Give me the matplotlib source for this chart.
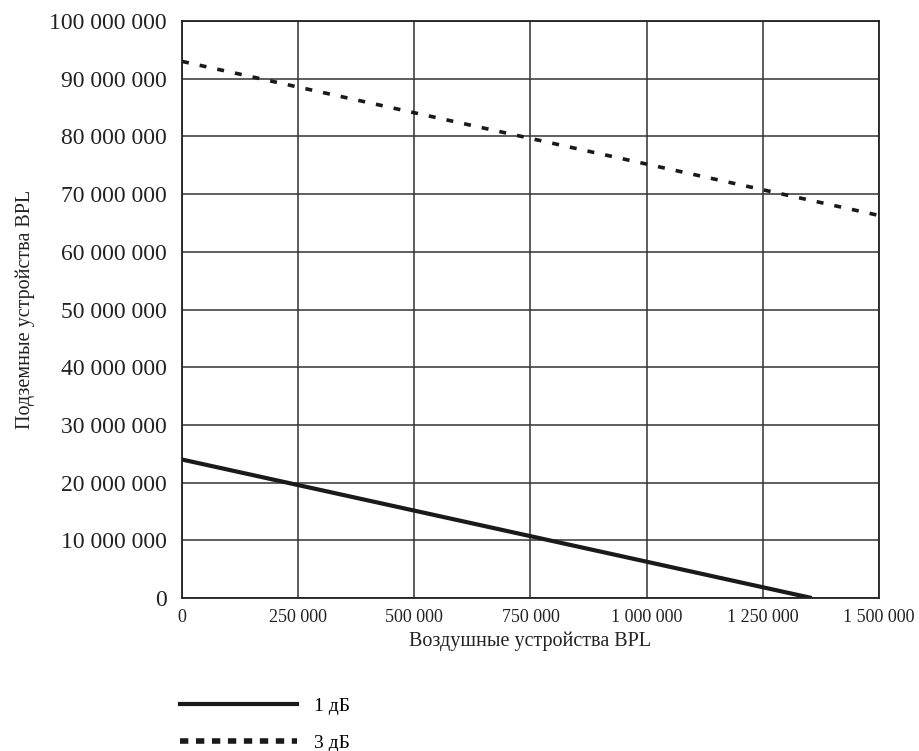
import matplotlib
matplotlib.use("Agg")
import matplotlib.pyplot as plt
from matplotlib.ticker import FuncFormatter

plt.rcParams["font.family"] = ["Liberation Serif", "DejaVu Serif"]
plt.rcParams["lines.scale_dashes"] = False

# values
air_1db = [0, 1355000]
ground_1db = [24000000, 0]
air_3db = [0, 1500000]
ground_3db = [93000000, 66300000]

x_ticks = [0, 250000, 500000, 750000, 1000000, 1250000, 1500000]
y_ticks = [0, 10000000, 20000000, 30000000, 40000000, 50000000,
           60000000, 70000000, 80000000, 90000000, 100000000]

labels = ["1 дБ", "3 дБ"]


def space_thousands(v, pos):
    return f"{v:,.0f}".replace(",", " ")


fig = plt.figure(figsize=(9.2, 7.51), dpi=100)
ax = fig.add_axes([182 / 920, 1 - 598 / 751, (879 - 182) / 920, (598 - 21) / 751])

l1, = ax.plot(air_1db, ground_1db, color="#1a1a1a", lw=3, solid_capstyle="butt")
l2, = ax.plot(air_3db, ground_3db, color="#1a1a1a", lw=2.6,
              dashes=(5, 8), dash_capstyle="butt")

ax.set_xlim(0, 1500000)
ax.set_ylim(0, 100000000)
ax.set_xticks(x_ticks)
ax.set_yticks(y_ticks)
ax.xaxis.set_major_formatter(FuncFormatter(space_thousands))
ax.yaxis.set_major_formatter(FuncFormatter(space_thousands))
ax.tick_params(axis="y", length=0, pad=11, labelsize=17, colors="#222222")
ax.tick_params(axis="x", length=0, pad=8, labelsize=13, colors="#222222")
ax.grid(True, color="#333333", lw=1.1)
ax.set_axisbelow(True)
for s in ax.spines.values():
    s.set_color("#222222")
    s.set_linewidth(1.3)

ax.set_xlabel("Воздушные устройства BPL", fontsize=14.5, labelpad=4, color="#222222")
ax.set_ylabel("Подземные устройства BPL", fontsize=14.5, labelpad=10, color="#222222")

leg_solid, = ax.plot([], [], color="#1a1a1a", lw=3)
leg_dash, = ax.plot([], [], color="#1a1a1a", lw=4, dashes=(6, 5.5))
fig.legend([leg_solid, leg_dash], labels, loc="upper left",
           bbox_to_anchor=(180 / 920, 1 - 697 / 751), frameon=False,
           fontsize=14, handlelength=6, handletextpad=0.9,
           labelspacing=1.0, borderpad=0, borderaxespad=0)

fig.savefig("out.png", dpi=100)
plt.close(fig)
